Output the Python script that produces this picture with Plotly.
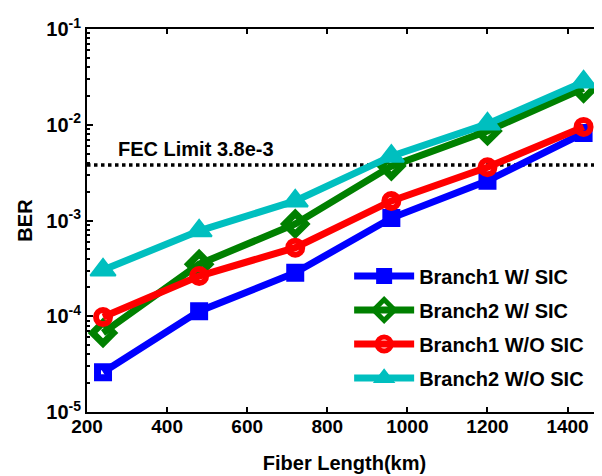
import math
import plotly.graph_objects as go

fiber_km = [240, 480, 720, 960, 1200, 1440]
b1_sic = [2.6e-5, 1.13e-4, 2.85e-4, 1.06e-3, 2.6e-3, 8.2e-3]
b2_sic = [6.7e-5, 3.5e-4, 9.2e-4, 3.7e-3, 8.6e-3, 2.4e-2]
b1_nosic = [9.8e-5, 2.63e-4, 5.2e-4, 1.6e-3, 3.6e-3, 9.5e-3]
b2_nosic = [3.04e-4, 7.8e-4, 1.6e-3, 4.7e-3, 1.02e-2, 2.8e-2]
fec_limit = 3.8e-3

series = [
    ("Branch1 W/ SIC", b1_sic, "#0000FF", "square-open", 11, 7),
    ("Branch2 W/ SIC", b2_sic, "#008000", "diamond-open", 16, 7),
    ("Branch1 W/O SIC", b1_nosic, "#FF0000", "circle-open", 14, 6),
    ("Branch2 W/O SIC", b2_nosic, "#00BFBF", "triangle-up", 22, 2),
]

y_major = [1e-5, 1e-4, 1e-3, 1e-2, 1e-1]
y_major_text = ["10<sup>-5</sup>", "10<sup>-4</sup>", "10<sup>-3</sup>", "10<sup>-2</sup>", "10<sup>-1</sup>"]
y_minor = [m * d for d in [1e-5, 1e-4, 1e-3, 1e-2] for m in range(2, 10)]
x_ticks = [200, 400, 600, 800, 1000, 1200, 1400]

font_family = "Liberation Sans, Arial, sans-serif"

fig = go.Figure()

fig.add_trace(go.Scatter(
    x=[200, 1486], y=[fec_limit, fec_limit], mode="lines",
    line=dict(color="black", width=3.5, dash="dot"), showlegend=False, hoverinfo="skip"))

for i, (name, vals, color, sym, msize, mlw) in enumerate(series):
    fig.add_trace(go.Scatter(
        x=fiber_km, y=vals, mode="lines+markers", name=name, legendgroup=f"g{i}",
        line=dict(color=color, width=7),
        marker=dict(symbol=sym, size=msize, color=color,
                    line=dict(color=color, width=mlw)),
    ))

fig.add_annotation(x=272, y=math.log10(fec_limit), xref="x", yref="y", yshift=16,
                   text="<b>FEC Limit 3.8e-3</b>", showarrow=False,
                   xanchor="left", yanchor="middle",
                   font=dict(size=20, color="black", family=font_family))

fig.update_layout(
    width=602, height=476,
    margin=dict(l=79, r=8, t=21, b=72),
    paper_bgcolor="white", plot_bgcolor="white",
    font=dict(family=font_family, color="black"),
    legend=dict(x=0.509, y=0.406, xanchor="left", yanchor="top",
                bgcolor="rgba(255,255,255,0)", itemwidth=60,
                font=dict(size=20, family=font_family, color="black", weight="bold"),
                tracegroupgap=5),
    showlegend=True,
)

fig.update_xaxes(
    range=[200, 1486], tickvals=x_ticks, automargin=False,
    ticks="inside", ticklen=5, tickcolor="black", tickwidth=1.5,
    showline=True, linecolor="black", linewidth=2, mirror="ticks",
    showgrid=False, zeroline=False, ticklabelstandoff=-4,
    tickfont=dict(size=19, family=font_family, weight="bold"),
    title=dict(text="<b>Fiber Length(km)</b>", font=dict(size=20, family=font_family), standoff=20),
)
fig.update_yaxes(
    type="log", range=[-5, -1], tickvals=y_major, ticktext=y_major_text, automargin=False,
    ticks="inside", ticklen=6, tickcolor="black", tickwidth=1.5,
    minor=dict(ticks="inside", ticklen=3, tickvals=y_minor, tickcolor="black", showgrid=False),
    showline=True, linecolor="black", linewidth=2, mirror=False,
    showgrid=False, zeroline=False,
    tickfont=dict(size=20, family=font_family, weight="bold"),
    title=dict(text="<b>BER</b>", font=dict(size=20, family=font_family), standoff=8),
)

fig.write_html("out.html")
